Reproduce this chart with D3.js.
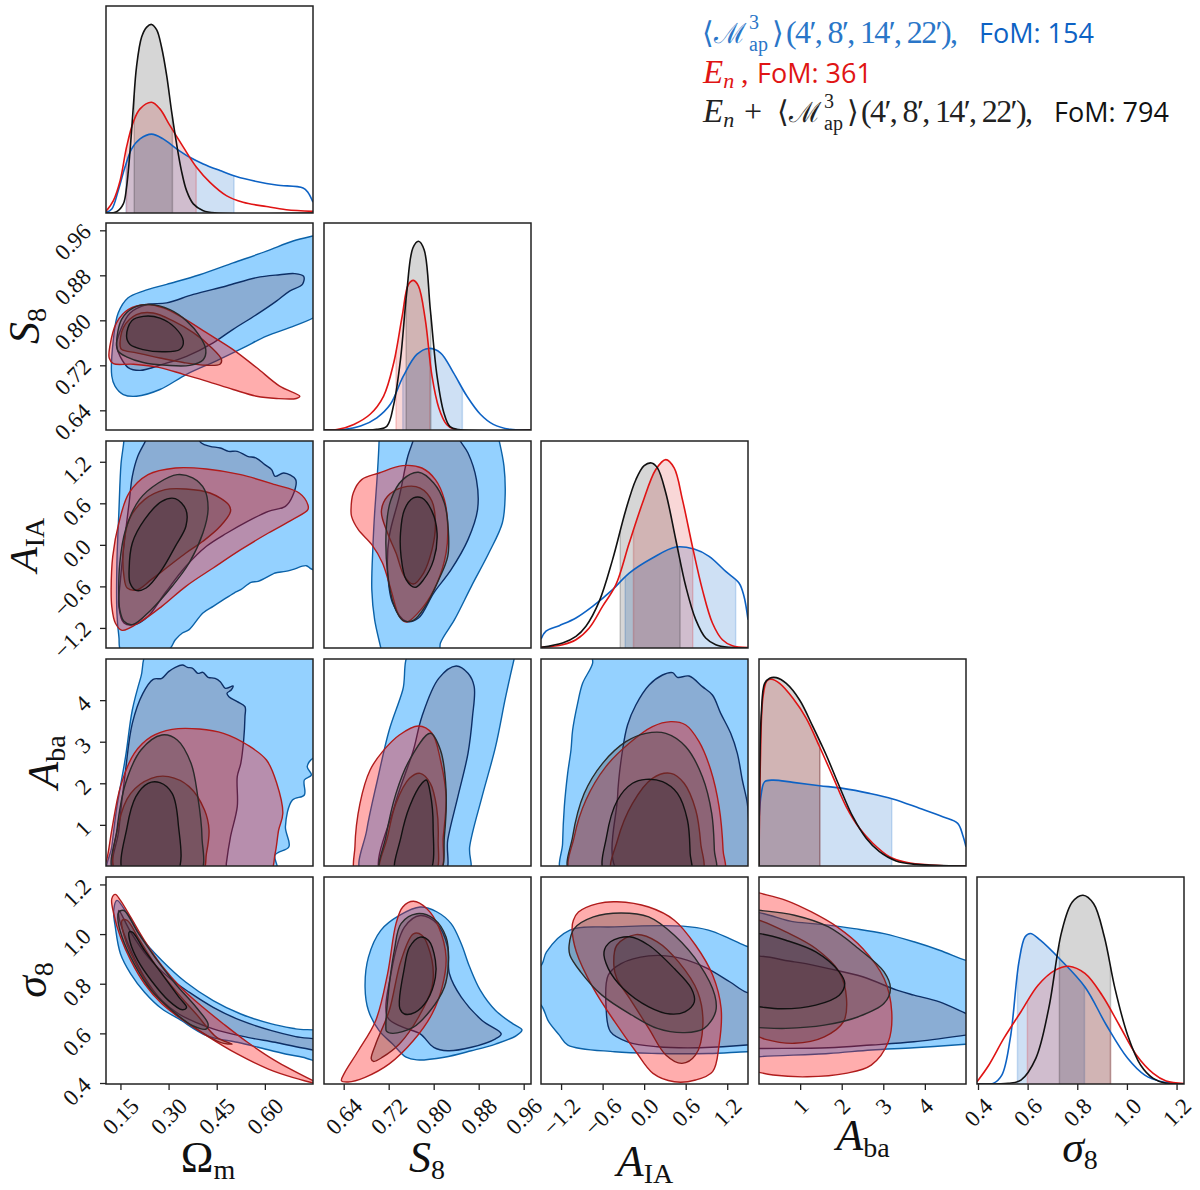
<!DOCTYPE html>
<html>
<head>
<meta charset="utf-8">
<script src="https://d3js.org/d3.v7.min.js"></script>
<style>
  html, body { margin: 0; padding: 0; background: #fff; }
  text { font-family: "Liberation Serif", serif; fill: #111; }
</style>
</head>
<body>
<svg id="chart" width="1200" height="1190"></svg>
<script>
// parameter ranges and ticks
var paramNames = ["om", "s8", "aia", "aba", "sig"];
var omRange = [0.105, 0.75], s8Range = [0.605, 0.973], aiaRange = [-1.49, 1.5], abaRange = [0.01, 4.99], sigRange = [0.396, 1.23];
var omTicks = [0.15, 0.30, 0.45, 0.60], omLabels = ["0.15", "0.30", "0.45", "0.60"];
var s8Ticks = [0.64, 0.72, 0.80, 0.88, 0.96], s8Labels = ["0.64", "0.72", "0.80", "0.88", "0.96"];
var aiaTicks = [-1.2, -0.6, 0, 0.6, 1.2], aiaLabels = ["\u22121.2", "\u22120.6", "0.0", "0.6", "1.2"];
var abaTicks = [1, 2, 3, 4], abaLabels = ["1", "2", "3", "4"];
var sigTicks = [0.4, 0.6, 0.8, 1.0, 1.2], sigLabels = ["0.4", "0.6", "0.8", "1.0", "1.2"];

// 1D posteriors, [value, height as fraction of the panel]
var om1dBlue = [[.105,.003],[.123,.019],[.143,.108],[.164,.221],[.185,.310],[.211,.358],[.247,.381],[.283,.358],[.325,.310],[.366,.269],[.408,.237],[.460,.205],[.511,.176],[.574,.152],[.636,.135],[.719,.121],[.734,.100],[.75,.052]];
var om1dRed = [[.105,.008],[.128,.060],[.149,.156],[.169,.318],[.190,.439],[.211,.503],[.247,.535],[.273,.503],[.304,.423],[.346,.318],[.387,.221],[.429,.148],[.480,.084],[.532,.052],[.605,.031],[.667,.016],[.75,.008]];
var om1dBlack = [[.105,0],[.138,.006],[.159,.044],[.169,.124],[.180,.302],[.190,.511],[.200,.705],[.216,.850],[.232,.898],[.247,.911],[.263,.885],[.278,.802],[.294,.665],[.309,.495],[.325,.334],[.340,.205],[.356,.108],[.377,.044],[.408,.011],[.449,0],[.75,0]];
var s81dBlue = [[.605,0],[.640,.002],[.670,.019],[.699,.059],[.723,.124],[.746,.260],[.770,.365],[.791,.394],[.812,.373],[.835,.277],[.859,.164],[.883,.076],[.906,.027],[.936,.003],[.971,0]];
var s81dRed = [[.605,0],[.628,.002],[.658,.027],[.687,.076],[.711,.164],[.729,.325],[.744,.550],[.755,.703],[.764,.723],[.773,.695],[.785,.534],[.797,.260],[.809,.108],[.823,.027],[.838,.002],[.973,0]];
var s81dBlack = [[.605,0],[.699,.003],[.717,.019],[.729,.124],[.741,.341],[.752,.662],[.763,.879],[.773,.912],[.783,.871],[.794,.582],[.806,.260],[.818,.084],[.829,.016],[.844,.002],[.973,0]];
var aia1dBlue = [[-1.49,.043],[-1.418,.081],[-1.226,.108],[-.985,.145],[-.745,.201],[-.456,.282],[-.216,.362],[.120,.435],[.457,.488],[.721,.478],[.938,.443],[1.178,.370],[1.370,.314],[1.442,.250],[1.5,.137]];
var aia1dRed = [[-1.49,.003],[-1.178,.016],[-.985,.040],[-.793,.097],[-.601,.201],[-.408,.306],[-.216,.507],[-.024,.700],[.168,.862],[.313,.910],[.433,.870],[.553,.717],[.697,.491],[.841,.282],[.986,.121],[1.130,.040],[1.274,.011],[1.5,.002]];
var aia1dBlack = [[-1.49,.003],[-1.178,.024],[-.985,.056],[-.841,.105],[-.649,.225],[-.456,.427],[-.264,.668],[-.120,.813],[0,.881],[.106,.894],[.192,.870],[.313,.749],[.457,.523],[.601,.298],[.745,.137],[.889,.048],[1.034,.016],[1.226,.003],[1.5,0]];
var aba1dBlue = [[.01,.222],[.066,.351],[.146,.407],[.346,.415],[.827,.404],[1.467,.388],[2.027,.375],[2.668,.351],[3.228,.324],[3.869,.279],[4.429,.238],[4.790,.206],[4.910,.150],[4.99,.093]];
var aba1dRed = [[.01,0],[.042,.496],[.106,.818],[.202,.895],[.306,.902],[.506,.882],[.827,.810],[1.147,.713],[1.467,.576],[1.787,.432],[2.107,.287],[2.428,.182],[2.748,.110],[3.148,.045],[3.549,.018],[4.109,.005],[4.99,0]];
var aba1dBlack = [[.01,0],[.026,.415],[.066,.738],[.146,.882],[.266,.907],[.426,.910],[.666,.882],[.987,.802],[1.307,.673],[1.627,.536],[1.947,.383],[2.268,.238],[2.588,.134],[2.908,.069],[3.308,.024],[3.789,.008],[4.99,0]];
var sig1dBlue = [[.396,0],[.461,.003],[.496,.043],[.530,.220],[.565,.590],[.590,.711],[.611,.727],[.651,.695],[.728,.606],[.831,.469],[.917,.285],[1.003,.124],[1.072,.043],[1.141,.011],[1.23,0]];
var sig1dRed = [[.396,.011],[.444,.092],[.504,.220],[.573,.349],[.642,.477],[.711,.550],[.766,.569],[.831,.534],[.900,.429],[.969,.285],[1.038,.140],[1.106,.051],[1.158,.014],[1.23,.002]];
var sig1dBlack = [[.396,0],[.522,.003],[.573,.019],[.633,.124],[.685,.365],[.737,.735],[.780,.879],[.823,.912],[.866,.871],[.909,.711],[.952,.461],[1.003,.236],[1.055,.092],[1.106,.027],[1.158,.003],[1.23,0]];

// 68% intervals of each 1D posterior
var omBandBlue = [.167,.504], omBandRed = [.169,.386], omBandBlack = [.193,.312];
var s8BandBlue = [.745,.851], s8BandRed = [.733,.793], s8BandBlack = [.751,.795];
var aiaBandBlue = [-.274,1.322], aiaBandRed = [-.154,.702], aiaBandBlack = [-.346,.519];
var abaBandBlue = [.01,3.204], abaBandRed = [.01,1.475], abaBandBlack = [.01,1.475];
var sigBandBlue = [.559,.829], sigBandRed = [.599,.934], sigBandBlack = [.728,.934];

// 2D contours, [x value, y value]; outer = 95%, inner = 68%
var s8OmBlueOuter = [[.123,.701],[.128,.766],[.143,.813],[.174,.840],[.221,.852],[.294,.864],[.397,.881],[.501,.902],[.605,.923],[.688,.941],[.75,.950],[.791,.955],[.791,.819],[.75,.804],[.677,.787],[.605,.772],[.532,.751],[.449,.728],[.356,.704],[.273,.677],[.200,.665],[.159,.668],[.133,.683]];
var s8OmBlueInner = [[.140,.766],[.180,.813],[.232,.828],[.294,.831],[.377,.846],[.480,.861],[.574,.876],[.646,.881],[.693,.883],[.721,.878],[.717,.864],[.677,.852],[.636,.834],[.574,.810],[.501,.784],[.439,.760],[.356,.736],[.283,.722],[.211,.711],[.174,.716],[.149,.736],[.138,.754]];
var s8OmRedOuter = [[.117,.754],[.138,.796],[.174,.819],[.232,.828],[.283,.822],[.346,.804],[.418,.778],[.501,.748],[.574,.716],[.646,.683],[.709,.665],[.698,.661],[.636,.661],[.574,.665],[.501,.677],[.418,.692],[.346,.704],[.273,.716],[.190,.722],[.128,.723],[.115,.733]];
var s8OmRedInner = [[.149,.754],[.159,.787],[.200,.810],[.252,.813],[.314,.799],[.377,.778],[.429,.754],[.465,.730],[.460,.722],[.418,.720],[.346,.725],[.273,.733],[.200,.742],[.154,.748]];
var s8OmBlackOuter = [[.138,.760],[.154,.802],[.190,.822],[.242,.828],[.304,.819],[.356,.799],[.397,.772],[.416,.748],[.408,.730],[.366,.720],[.294,.720],[.221,.725],[.169,.735],[.143,.745]];
var s8OmBlackInner = [[.169,.772],[.185,.799],[.221,.807],[.273,.804],[.320,.787],[.346,.763],[.335,.748],[.283,.744],[.221,.748],[.180,.757]];

var aiaOmBlueOuter = [[.161,1.81],[.161,1.519],[.152,1.18],[.145,.46],[.139,-.262],[.139,-.984],[.145,-1.32],[.155,-1.56],[.300,-1.514],[.321,-1.370],[.343,-1.273],[.364,-1.225],[.407,-.984],[.439,-.888],[.471,-.792],[.504,-.696],[.525,-.647],[.557,-.541],[.579,-.527],[.621,-.431],[.632,-.407],[.664,-.383],[.686,-.358],[.729,-.301],[.745,-.349],[.804,-.407],[.804,1.81]];
var aiaOmBlueInner = [[.230,1.519],[.204,1.279],[.187,.990],[.177,.605],[.163,.075],[.150,-.503],[.145,-.888],[.161,-1.129],[.193,-1.153],[.236,-1.033],[.289,-.696],[.354,-.310],[.418,-.021],[.482,.171],[.546,.340],[.611,.484],[.664,.556],[.686,.701],[.696,.942],[.659,1.038],[.632,.990],[.621,1.086],[.600,1.158],[.573,1.254],[.546,1.279],[.514,1.351],[.487,1.351],[.461,1.399],[.429,1.423],[.402,1.471],[.364,1.712],[.246,1.712]];
var aiaOmRedOuter = [[.121,-.647],[.126,-.166],[.145,.316],[.177,.749],[.236,1.014],[.321,1.110],[.418,1.096],[.525,1.014],[.632,.869],[.707,.749],[.734,.580],[.734,.508],[.686,.364],[.611,.171],[.525,-.070],[.439,-.334],[.354,-.599],[.279,-.888],[.214,-1.105],[.155,-1.235],[.134,-1.129],[.123,-.888]];
var aiaOmRedInner = [[.161,-.455],[.159,-.070],[.177,.364],[.225,.653],[.289,.797],[.354,.807],[.429,.749],[.487,.580],[.493,.484],[.461,.268],[.407,.051],[.354,-.118],[.300,-.310],[.246,-.503],[.204,-.647],[.171,-.623]];
var aiaOmBlackOuter = [[.145,-.744],[.148,-.262],[.166,.219],[.209,.653],[.268,.893],[.327,1.014],[.375,.966],[.412,.797],[.423,.508],[.407,.171],[.364,-.262],[.311,-.599],[.246,-.936],[.187,-1.153],[.161,-1.105],[.148,-.936]];
var aiaOmBlackInner = [[.177,-.358],[.187,.027],[.225,.364],[.279,.629],[.321,.667],[.354,.508],[.354,.268],[.321,-.021],[.279,-.358],[.230,-.623],[.198,-.657],[.180,-.551]];

var aiaS8BlueOuter = [[.703,1.519],[.700,1.038],[.695,.46],[.692,-.021],[.690,-.647],[.695,-1.081],[.706,-1.49],[.709,-1.61],[.809,-1.61],[.812,-1.418],[.837,-1.081],[.867,-.599],[.898,-.118],[.922,.316],[.927,.701],[.925,1.134],[.916,1.519],[.910,1.712],[.703,1.712]];
var aiaS8BlueInner = [[.764,1.519],[.754,1.279],[.739,.701],[.721,.123],[.718,-.358],[.727,-.840],[.751,-1.105],[.773,-1.057],[.800,-.696],[.831,-.358],[.861,.075],[.878,.508],[.876,.942],[.861,1.327],[.846,1.519],[.837,1.712],[.770,1.712]];
var aiaS8RedOuter = [[.653,.508],[.657,.749],[.672,.942],[.703,1.038],[.745,1.144],[.779,1.110],[.803,.942],[.819,.653],[.825,.268],[.822,-.118],[.806,-.551],[.782,-.888],[.751,-1.115],[.739,-1.033],[.724,-.647],[.709,-.262],[.690,.003],[.666,.219],[.654,.412]];
var aiaS8RedInner = [[.707,.484],[.718,.701],[.745,.831],[.776,.821],[.797,.629],[.803,.268],[.797,-.070],[.782,-.407],[.764,-.566],[.748,-.455],[.733,-.118],[.718,.171]];
var aiaS8BlackOuter = [[.716,.268],[.724,.653],[.745,.942],[.773,1.048],[.800,.893],[.819,.605],[.826,.219],[.825,-.166],[.809,-.503],[.785,-.888],[.764,-1.09],[.745,-1.09],[.730,-.888],[.718,-.407]];
var aiaS8BlackInner = [[.741,.171],[.748,.508],[.764,.677],[.779,.677],[.797,.484],[.806,.171],[.800,-.214],[.782,-.503],[.767,-.614],[.751,-.503],[.742,-.166]];

var abaOmBlueOuter = [[.241,5.207],[.214,4.565],[.187,3.763],[.166,2.640],[.139,1.438],[.123,.475],[.113,-.166],[.637,-.166],[.632,.275],[.675,.475],[.664,.956],[.686,1.598],[.723,1.718],[.723,2.079],[.745,2.199],[.732,2.400],[.750,2.600],[.793,2.600],[.793,5.207]];
var abaOmBlueInner = [[.134,-.166],[.145,.876],[.166,2.320],[.187,3.443],[.220,4.164],[.252,4.501],[.279,4.525],[.300,4.686],[.321,4.790],[.343,4.846],[.359,4.790],[.375,4.766],[.391,4.646],[.407,4.670],[.423,4.549],[.445,4.525],[.461,4.445],[.477,4.285],[.501,4.341],[.495,4.245],[.482,4.164],[.488,4.084],[.514,3.964],[.538,3.844],[.538,3.603],[.534,3.042],[.525,2.480],[.514,2.159],[.514,1.438],[.493,.716],[.480,.074],[.477,-.166]];
var abaOmRedOuter = [[.107,.154],[.123,.876],[.150,1.919],[.193,2.721],[.246,3.122],[.311,3.298],[.396,3.306],[.471,3.202],[.546,2.921],[.605,2.560],[.637,2.0],[.656,1.277],[.643,.876],[.632,.315],[.611,-.166],[.091,-.166]];
var abaOmRedInner = [[.139,-.166],[.145,1.037],[.182,1.758],[.246,2.119],[.300,2.159],[.364,1.919],[.412,1.357],[.426,.876],[.418,.315],[.402,-.166]];
var abaOmBlackOuter = [[.131,-.166],[.139,.876],[.166,2.0],[.214,2.801],[.279,3.162],[.327,3.042],[.370,2.480],[.391,1.678],[.404,.716],[.396,-.166]];
var abaOmBlackInner = [[.161,-.166],[.171,.956],[.198,1.678],[.236,2.0],[.273,2.015],[.311,1.758],[.330,1.037],[.324,-.166]];

var abaS8BlueOuter = [[.761,5.207],[.745,4.245],[.721,3.282],[.700,2.079],[.681,.876],[.672,-.166],[.862,-.166],[.864,.475],[.886,1.678],[.910,2.881],[.928,4.084],[.944,5.046],[.947,5.207]];
var abaS8BlueInner = [[.706,-.166],[.730,1.438],[.764,2.801],[.779,3.603],[.809,4.525],[.840,4.822],[.861,4.646],[.872,4.325],[.869,3.603],[.861,2.721],[.843,1.678],[.825,.636],[.819,-.166]];
var abaS8RedOuter = [[.663,-.166],[.660,.475],[.669,1.518],[.687,2.320],[.709,2.761],[.739,3.162],[.773,3.378],[.797,3.202],[.812,2.560],[.822,1.678],[.817,.716],[.809,-.166]];
var abaS8RedInner = [[.706,-.166],[.718,.716],[.733,1.518],[.757,2.119],[.776,2.239],[.794,2.0],[.805,1.438],[.808,.636],[.801,-.166]];
var abaS8BlackOuter = [[.706,-.166],[.715,.716],[.733,1.758],[.757,2.560],[.794,3.202],[.812,2.801],[.822,1.839],[.819,.716],[.809,-.166]];
var abaS8BlackInner = [[.733,-.166],[.742,.716],[.757,1.438],[.779,2.0],[.787,2.079],[.794,1.758],[.799,.956],[.791,-.166]];

var abaAiaBlueOuter = [[-.745,5.207],[-.745,4.886],[-.889,4.405],[-.961,3.924],[-1.033,3.282],[-1.057,2.801],[-1.105,2.239],[-1.153,1.438],[-1.178,.555],[-1.178,-.166],[1.707,-.166],[1.707,5.207]];
var abaAiaBlueInner = [[-.360,-.166],[-.384,1.678],[-.312,2.801],[-.240,3.402],[-.120,3.884],[.072,4.365],[.265,4.605],[.409,4.662],[.481,4.549],[.649,4.581],[.841,4.325],[.986,4.124],[1.106,3.683],[1.250,3.202],[1.346,2.721],[1.418,2.079],[1.490,1.518],[1.510,1.037],[1.538,-.166]];
var abaAiaRedOuter = [[-1.057,-.166],[-1.009,.716],[-.841,1.598],[-.553,2.400],[-.216,2.961],[.120,3.362],[.385,3.483],[.601,3.402],[.793,3.001],[.962,2.320],[1.082,1.438],[1.140,.395],[1.140,-.166]];
var abaAiaRedInner = [[-.456,-.166],[-.384,.636],[-.168,1.518],[.120,2.119],[.385,2.239],[.577,2.0],[.745,1.357],[.817,.555],[.827,-.166]];
var abaAiaBlackOuter = [[-1.067,-.166],[-1.033,.716],[-.865,1.758],[-.601,2.480],[-.264,3.001],[.024,3.202],[.313,3.202],[.601,2.881],[.841,2.159],[.976,1.277],[1.014,.395],[1.014,-.166]];
var abaAiaBlackInner = [[-.562,-.166],[-.543,.716],[-.384,1.598],[-.168,2.0],[.024,2.095],[.265,2.039],[.481,1.758],[.625,1.117],[.664,.315],[.664,-.166]];

var sigOmBlueOuter = [[.129,1.095],[.139,1.136],[.171,1.082],[.214,.988],[.279,.894],[.354,.806],[.439,.732],[.525,.678],[.621,.638],[.696,.618],[.793,.598],[.793,.483],[.718,.504],[.664,.517],[.579,.544],[.514,.564],[.418,.591],[.332,.658],[.279,.699],[.225,.766],[.182,.840],[.150,.921],[.134,1.028]];
var sigOmBlueInner = [[.145,1.095],[.182,1.008],[.236,.907],[.300,.826],[.364,.766],[.439,.705],[.525,.652],[.621,.611],[.696,.587],[.793,.564],[.793,.530],[.718,.541],[.632,.564],[.546,.584],[.439,.618],[.332,.678],[.279,.732],[.225,.826],[.187,.921],[.161,1.001],[.145,1.068]];
var sigOmRedOuter = [[.123,1.142],[.134,1.160],[.150,1.136],[.182,1.068],[.225,.974],[.279,.873],[.343,.779],[.407,.705],[.471,.638],[.546,.564],[.632,.490],[.750,.409],[.771,.396],[.686,.423],[.611,.456],[.514,.517],[.418,.591],[.332,.665],[.279,.719],[.225,.800],[.182,.894],[.150,.988],[.129,1.082]];
var sigOmRedInner = [[.155,1.055],[.171,1.055],[.204,.988],[.257,.880],[.321,.773],[.386,.678],[.450,.584],[.498,.557],[.461,.564],[.396,.611],[.321,.678],[.257,.759],[.204,.867],[.166,.974]];
var sigOmBlackOuter = [[.145,1.089],[.161,1.095],[.204,1.008],[.257,.907],[.321,.800],[.386,.705],[.423,.638],[.418,.618],[.375,.631],[.311,.692],[.246,.773],[.193,.880],[.155,.988],[.142,1.062]];
var sigOmBlackInner = [[.177,1.008],[.187,1.008],[.225,.934],[.279,.840],[.332,.746],[.356,.705],[.343,.695],[.300,.732],[.246,.813],[.204,.894],[.180,.968]];

var sigS8BlueOuter = [[.678,.786],[.684,.907],[.706,1.015],[.739,1.075],[.776,1.109],[.806,1.089],[.831,1.042],[.849,.961],[.864,.867],[.883,.773],[.910,.692],[.941,.638],[.957,.614],[.947,.591],[.910,.557],[.867,.530],[.819,.504],[.770,.493],[.751,.504],[.727,.557],[.703,.611],[.684,.692]];
var sigS8BlueInner = [[.718,.665],[.724,.840],[.748,1.028],[.776,1.075],[.806,1.042],[.825,.947],[.828,.840],[.849,.746],[.886,.652],[.920,.598],[.910,.578],[.867,.544],[.825,.530],[.800,.544],[.776,.598],[.745,.625]];
var sigS8RedOuter = [[.636,.409],[.642,.443],[.666,.530],[.697,.652],[.718,.840],[.733,1.042],[.745,1.109],[.764,1.132],[.788,1.102],[.809,1.028],[.822,.907],[.815,.786],[.797,.678],[.764,.571],[.721,.477],[.678,.423],[.648,.404]];
var sigS8RedInner = [[.689,.497],[.697,.557],[.721,.692],[.742,.894],[.764,1.001],[.779,.995],[.797,.894],[.797,.786],[.773,.665],[.739,.557],[.709,.504],[.693,.487]];
var sigS8BlackOuter = [[.715,.625],[.718,.732],[.730,.934],[.742,1.042],[.770,1.082],[.800,1.062],[.822,.988],[.826,.880],[.819,.786],[.794,.692],[.764,.625],[.727,.600],[.716,.609]];
var sigS8BlackInner = [[.739,.732],[.747,.853],[.757,.947],[.776,.988],[.791,.974],[.803,.894],[.803,.826],[.788,.732],[.767,.685],[.748,.678],[.740,.699]];

var sigAiaBlueOuter = [[-1.656,.808],[-1.472,.881],[-1.41,.928],[-1.072,1.016],[-.426,1.029],[.559,1.032],[.928,1.016],[1.235,.982],[1.481,.951],[1.666,.935],[1.666,.526],[1.481,.526],[.928,.519],[.190,.519],[-.426,.526],[-1.102,.553],[-1.225,.593],[-1.379,.647],[-1.49,.714],[-1.656,.741]];
var sigAiaBlueInner = [[-.549,.700],[-.518,.835],[-.333,.881],[.066,.912],[.436,.908],[.866,.868],[1.235,.808],[1.481,.765],[1.666,.761],[1.666,.560],[1.481,.553],[.805,.542],[.190,.546],[-.241,.566],[-.487,.607]];
var sigAiaRedOuter = [[-1.022,1.056],[-.949,1.089],[-.672,1.123],[-.395,1.130],[.066,1.109],[.436,1.056],[.743,.955],[.989,.835],[1.112,.700],[1.082,.553],[.989,.446],[.743,.412],[.436,.405],[.128,.439],[-.118,.526],[-.426,.647],[-.733,.781],[-.979,.928],[-1.041,1.022]];
var sigAiaRedInner = [[-.438,.875],[-.395,.955],[-.118,.998],[.190,.969],[.497,.888],[.774,.767],[.848,.633],[.743,.513],[.546,.479],[.313,.513],[.066,.620],[-.210,.741],[-.395,.821]];
var sigAiaBlackOuter = [[-1.084,.955],[-1.010,1.022],[-.733,1.069],[-.333,1.085],[.066,1.069],[.436,.995],[.805,.875],[1.020,.754],[1.032,.687],[.866,.620],[.589,.603],[.190,.620],[-.180,.674],[-.610,.754],[-.918,.848],[-1.072,.915]];
var sigAiaBlackInner = [[-.580,.928],[-.487,.969],[-.210,.989],[.066,.955],[.436,.861],[.682,.781],[.725,.727],[.589,.687],[.374,.678],[.066,.707],[-.303,.781],[-.518,.861]];

var sigAbaBlueOuter = [[-.370,1.076],[.862,1.049],[1.684,1.036],[2.300,1.022],[3.019,1.002],[3.737,.969],[4.353,.935],[4.970,.895],[5.277,.881],[5.277,.560],[4.970,.556],[3.737,.542],[2.710,.533],[1.684,.519],[.01,.506],[-.370,.499]];
var sigAbaBlueInner = [[-.370,.895],[.862,.888],[1.684,.861],[2.505,.828],[3.327,.774],[3.737,.754],[4.353,.727],[4.990,.680],[5.277,.660],[5.277,.600],[4.990,.593],[3.737,.566],[2.710,.553],[1.684,.542],[.01,.539],[-.370,.537]];
var sigAbaRedOuter = [[-.370,1.183],[.01,1.166],[.657,1.136],[1.273,1.089],[1.889,1.029],[2.505,.942],[3.019,.821],[3.203,.687],[3.121,.566],[2.710,.472],[2.094,.439],[1.170,.425],[.349,.432],[.01,.443],[-.370,.459]];
var sigAbaRedInner = [[-.370,1.069],[.01,1.056],[.657,1.009],[1.376,.942],[1.940,.848],[2.115,.741],[2.043,.647],[1.581,.586],[.862,.560],[.143,.577],[.01,.586],[-.370,.600]];
var sigAbaBlackOuter = [[-.370,1.103],[.01,1.096],[.862,1.076],[1.684,1.029],[2.402,.942],[3.019,.848],[3.173,.781],[3.019,.721],[2.402,.667],[1.581,.633],[.657,.620],[.01,.623],[-.370,.627]];
var sigAbaBlackInner = [[-.370,1.002],[.01,1.002],[.657,.975],[1.376,.928],[1.940,.848],[2.074,.801],[1.940,.754],[1.376,.714],[.554,.699],[.01,.707],[-.370,.714]];

// legend text
var legendBlueFom = "FoM: 154", legendRedFom = "FoM: 361", legendBlackFom = "FoM: 794";
var scalesText = "(4\u2032, 8\u2032, 14\u2032, 22\u2032),";

// layout
var colX = [106, 324, 541, 759, 977];
var rowY = [6, 223, 441, 659, 877];
var size = 207;

var ranges = { om: omRange, s8: s8Range, aia: aiaRange, aba: abaRange, sig: sigRange };
var ticks = { om: [omTicks, omLabels], s8: [s8Ticks, s8Labels], aia: [aiaTicks, aiaLabels], aba: [abaTicks, abaLabels], sig: [sigTicks, sigLabels] };
var xScale = {}, yScale = {};
paramNames.forEach(function (p) {
    xScale[p] = d3.scaleLinear().domain(ranges[p]).range([0, size]);
    yScale[p] = d3.scaleLinear().domain(ranges[p]).range([size, 0]);
});
var densityY = d3.scaleLinear().domain([0, 1]).range([size, 0]);

var styles = {
    blue: { line: "#0d62c4", band: "#0a64c8", bandOp: 0.2, outer: "#94d1ff", outerOp: 1, inner: "#8aadd4", innerOp: 1, outerEdge: "#0b62a8", innerEdge: "#0d2f66" },
    red: { line: "#e01414", band: "#dc1414", bandOp: 0.17, outer: "#ff0606", outerOp: 0.33, inner: "#3c1e1e", innerOp: 0.26, outerEdge: "#b01c1c", innerEdge: "#8a1c1c" },
    black: { line: "#111", band: "#000", bandOp: 0.16, outer: "#3a3a3a", outerOp: 0.3, inner: "#241a24", innerOp: 0.24, outerEdge: "#2a2a2a", innerEdge: "#111" }
};

var svg = d3.select("#chart");
var clipCount = 0;

function panel(col, row) {
    var id = "clip" + (clipCount++);
    svg.append("clipPath").attr("id", id).append("rect").attr("width", size).attr("height", size);
    var g = svg.append("g").attr("transform", "translate(" + colX[col] + "," + rowY[row] + ")");
    return { g: g, body: g.append("g").attr("clip-path", "url(#" + id + ")") };
}

function frame(g) {
    g.append("rect").attr("width", size).attr("height", size)
        .attr("fill", "none").attr("stroke", "#222").attr("stroke-width", 1.5);
}

// diagonal panel
function draw1d(col, p, curves, bands) {
    var pan = panel(col, col);
    var x = xScale[p];
    var smooth = d3.curveCatmullRom.alpha(0.5);
    ["blue", "red", "black"].forEach(function (name, i) {
        var pts = curves[i], band = bands[i], st = styles[name];
        var id = "band" + (clipCount++);
        svg.append("clipPath").attr("id", id).append("rect")
            .attr("x", x(band[0])).attr("width", x(band[1]) - x(band[0])).attr("height", size);
        var area = d3.area().curve(smooth)
            .x(function (d) { return x(d[0]); }).y0(size).y1(function (d) { return densityY(d[1]); });
        pan.body.append("path").datum(pts).attr("d", area)
            .attr("clip-path", "url(#" + id + ")")
            .attr("fill", st.band).attr("fill-opacity", st.bandOp);
        // faint edges of the interval
        var height = d3.scaleLinear().domain(pts.map(function (d) { return d[0]; })).range(pts.map(function (d) { return d[1]; }));
        pan.body.selectAll(null).data(band).enter().append("line")
            .attr("x1", function (d) { return x(d); }).attr("x2", function (d) { return x(d); })
            .attr("y1", size).attr("y2", function (d) { return densityY(height(d)); })
            .attr("stroke", st.band).attr("stroke-opacity", 0.2).attr("stroke-width", 1.5);
    });
    ["blue", "red", "black"].forEach(function (name, i) {
        var line = d3.line().curve(smooth)
            .x(function (d) { return x(d[0]); }).y(function (d) { return densityY(d[1]); });
        pan.body.append("path").datum(curves[i]).attr("d", line)
            .attr("fill", "none").attr("stroke", styles[name].line).attr("stroke-width", 1.6);
    });
    frame(pan.g);
}

// off diagonal panel
function draw2d(col, row, xp, yp, shapes) {
    var pan = panel(col, row);
    var line = d3.line().curve(d3.curveCatmullRomClosed.alpha(0.5))
        .x(function (d) { return xScale[xp](d[0]); }).y(function (d) { return yScale[yp](d[1]); });
    ["blue", "red", "black"].forEach(function (name, i) {
        var st = styles[name];
        pan.body.append("path").datum(shapes[i * 2]).attr("d", line)
            .attr("fill", st.outer).attr("fill-opacity", st.outerOp)
            .attr("stroke", st.outerEdge).attr("stroke-width", 1.4);
        pan.body.append("path").datum(shapes[i * 2 + 1]).attr("d", line)
            .attr("fill", st.inner).attr("fill-opacity", st.innerOp)
            .attr("stroke", st.innerEdge).attr("stroke-width", 1.4);
    });
    frame(pan.g);
}

draw1d(0, "om", [om1dBlue, om1dRed, om1dBlack], [omBandBlue, omBandRed, omBandBlack]);
draw1d(1, "s8", [s81dBlue, s81dRed, s81dBlack], [s8BandBlue, s8BandRed, s8BandBlack]);
draw1d(2, "aia", [aia1dBlue, aia1dRed, aia1dBlack], [aiaBandBlue, aiaBandRed, aiaBandBlack]);
draw1d(3, "aba", [aba1dBlue, aba1dRed, aba1dBlack], [abaBandBlue, abaBandRed, abaBandBlack]);
draw1d(4, "sig", [sig1dBlue, sig1dRed, sig1dBlack], [sigBandBlue, sigBandRed, sigBandBlack]);

draw2d(0, 1, "om", "s8", [s8OmBlueOuter, s8OmBlueInner, s8OmRedOuter, s8OmRedInner, s8OmBlackOuter, s8OmBlackInner]);
draw2d(0, 2, "om", "aia", [aiaOmBlueOuter, aiaOmBlueInner, aiaOmRedOuter, aiaOmRedInner, aiaOmBlackOuter, aiaOmBlackInner]);
draw2d(1, 2, "s8", "aia", [aiaS8BlueOuter, aiaS8BlueInner, aiaS8RedOuter, aiaS8RedInner, aiaS8BlackOuter, aiaS8BlackInner]);
draw2d(0, 3, "om", "aba", [abaOmBlueOuter, abaOmBlueInner, abaOmRedOuter, abaOmRedInner, abaOmBlackOuter, abaOmBlackInner]);
draw2d(1, 3, "s8", "aba", [abaS8BlueOuter, abaS8BlueInner, abaS8RedOuter, abaS8RedInner, abaS8BlackOuter, abaS8BlackInner]);
draw2d(2, 3, "aia", "aba", [abaAiaBlueOuter, abaAiaBlueInner, abaAiaRedOuter, abaAiaRedInner, abaAiaBlackOuter, abaAiaBlackInner]);
draw2d(0, 4, "om", "sig", [sigOmBlueOuter, sigOmBlueInner, sigOmRedOuter, sigOmRedInner, sigOmBlackOuter, sigOmBlackInner]);
draw2d(1, 4, "s8", "sig", [sigS8BlueOuter, sigS8BlueInner, sigS8RedOuter, sigS8RedInner, sigS8BlackOuter, sigS8BlackInner]);
draw2d(2, 4, "aia", "sig", [sigAiaBlueOuter, sigAiaBlueInner, sigAiaRedOuter, sigAiaRedInner, sigAiaBlackOuter, sigAiaBlackInner]);
draw2d(3, 4, "aba", "sig", [sigAbaBlueOuter, sigAbaBlueInner, sigAbaRedOuter, sigAbaRedInner, sigAbaBlackOuter, sigAbaBlackInner]);

// axes, tick labels are rotated about their centre like matplotlib does
function styleAxis(g) {
    g.select(".domain").remove();
    g.selectAll("line").attr("stroke", "#222").attr("stroke-width", 1.3);
    g.selectAll("text").attr("font-size", 23).attr("fill", "#111");
}

for (var c = 0; c < 5; c++) {
    (function (c) {
        var p = paramNames[c];
        var ax = d3.axisBottom(xScale[p]).tickValues(ticks[p][0])
            .tickFormat(function (d, i) { return ticks[p][1][i]; }).tickSize(6);
        var g = svg.append("g").attr("transform", "translate(" + colX[c] + "," + (rowY[4] + size) + ")").call(ax);
        styleAxis(g);
        g.selectAll("text").attr("text-anchor", "middle").attr("dy", 0).attr("y", 0)
            .attr("dominant-baseline", "central")
            .attr("transform", function () {
                var w = this.getComputedTextLength();
                return "translate(0," + (13 + (w + 15) * 0.3535) + ") rotate(-45)";
            });
    })(c);
}
for (var r = 1; r < 5; r++) {
    (function (r) {
        var p = paramNames[r];
        var ax = d3.axisLeft(yScale[p]).tickValues(ticks[p][0])
            .tickFormat(function (d, i) { return ticks[p][1][i]; }).tickSize(6);
        var g = svg.append("g").attr("transform", "translate(" + colX[0] + "," + rowY[r] + ")").call(ax);
        styleAxis(g);
        g.selectAll("text").attr("text-anchor", "middle").attr("x", 0).attr("dy", 0)
            .attr("dominant-baseline", "central")
            .attr("transform", function () {
                var w = this.getComputedTextLength();
                return "translate(" + (-(13.5 + (w + 15) * 0.3535)) + "," + (w * 0.28) + ") rotate(-45)";
            });
    })(r);
}

// axis titles
function title(x, y, rot, main, sub, italic, fs) {
    var t = svg.append("text").attr("transform", "translate(" + x + "," + y + ") rotate(" + rot + ")")
        .attr("text-anchor", "middle").attr("font-size", fs || 44);
    t.append("tspan").attr("font-style", italic ? "italic" : "normal").text(main);
    t.append("tspan").attr("font-size", 28).attr("dy", 7).text(sub);
}
title(208, 1172, 0, "\u03a9", "m", false);
title(427, 1172, 0, "S", "8", true);
title(645, 1176, 0, "A", "IA", true);
title(863, 1150, 0, "A", "ba", true);
title(1080, 1162, 0, "\u03c3", "8", true);
title(39, 326, -90, "S", "8", true);
title(37, 545, -90, "A", "IA", true, 41);
title(58, 762, -90, "A", "ba", true);
title(46, 980, -90, "\u03c3", "8", true);

// legend
function mapBracket(x, y, col) {
    var f = "DejaVu Serif, serif";
    svg.append("text").attr("x", x).attr("y", y).attr("font-size", 30).style("fill", col).text("\u27e8");
    svg.append("text").attr("x", x + 12).attr("y", y).attr("font-size", 28).style("font-family", f).style("fill", col).text("\u2133");
    svg.append("text").attr("x", x + 47).attr("y", y - 14).attr("font-size", 20).style("fill", col).text("3");
    svg.append("text").attr("x", x + 47).attr("y", y + 8).attr("font-size", 20).style("fill", col).text("ap");
    svg.append("text").attr("x", x + 70).attr("y", y).attr("font-size", 30).style("fill", col).text("\u27e9");
    svg.append("text").attr("x", x + 84).attr("y", y).attr("font-size", 32).style("fill", col)
        .attr("textLength", 172).attr("lengthAdjust", "spacing").text(scalesText);
}
function fom(x, y, col, label) {
    svg.append("text").attr("x", x).attr("y", y).attr("font-size", 27).style("font-family", "Open Sans, sans-serif").style("fill", col).text(label);
}
function en(x, y, col) {
    var t = svg.append("text").attr("x", x).attr("y", y).attr("font-size", 33).style("fill", col);
    t.append("tspan").attr("font-style", "italic").text("E");
    t.append("tspan").attr("font-style", "italic").attr("font-size", 22).attr("dy", 5).text("n");
}

mapBracket(702, 43, "#2a76c8");
fom(979, 43, "#0d62c4", legendBlueFom);

en(703, 83, "#e01414");
svg.append("text").attr("x", 741).attr("y", 83).attr("font-size", 30).style("fill", "#e01414").text(",");
fom(757, 83, "#e01414", legendRedFom);

en(703, 122, "#222");
svg.append("text").attr("x", 744).attr("y", 122).attr("font-size", 32).style("fill", "#222").text("+");
mapBracket(777, 122, "#222");
fom(1054, 122, "#111", legendBlackFom);
</script>
</body>
</html>
